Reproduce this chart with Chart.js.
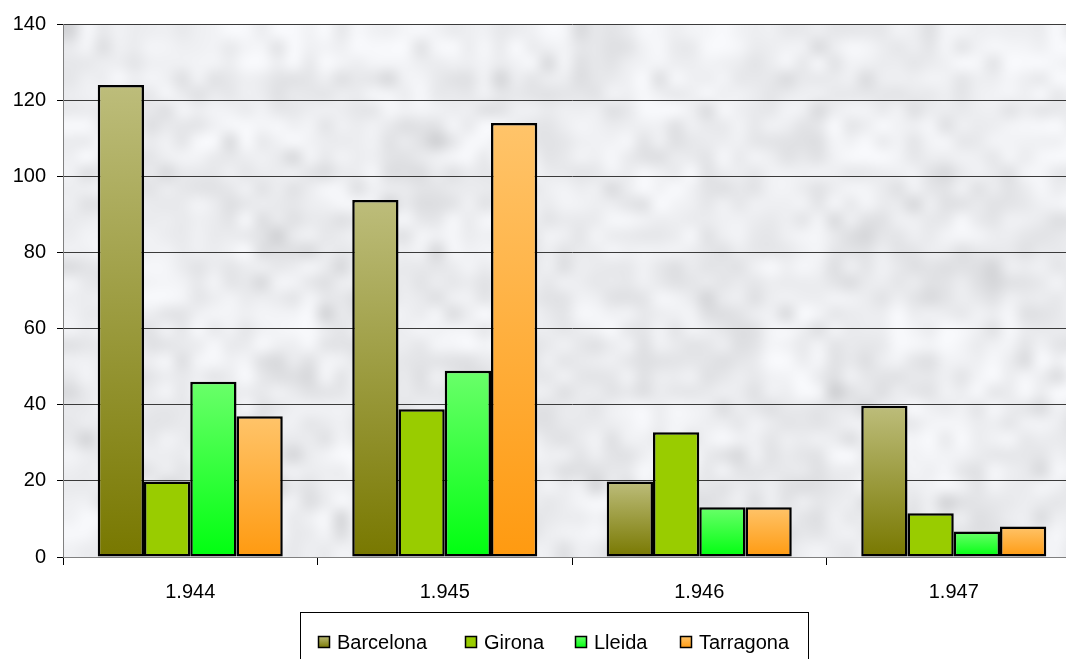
<!DOCTYPE html>
<html>
<head>
<meta charset="utf-8">
<script src="https://cdn.jsdelivr.net/npm/chart.js@4.4.1/dist/chart.umd.min.js"></script>
<style>
html, body { margin: 0; padding: 0; background: #fff; overflow: hidden; }
#wrap { width: 1082px; height: 659px; }
</style>
</head>
<body>
<div id="wrap"><canvas id="chart" width="1082" height="659"></canvas></div>
<script>
// Chart data
const years = ['1.944', '1.945', '1.946', '1.947'];
const barcelona = [124, 93.8, 19.8, 39.7];
const girona = [19.8, 38.8, 32.8, 11.5];
const lleida = [46, 48.9, 13.1, 6.7];
const tarragona = [37, 114, 13.1, 8];
const seriesNames = ['Barcelona', 'Girona', 'Lleida', 'Tarragona'];
const yMin = 0;
const yMax = 140;
const yStep = 20;

// Colours per series: [top, bottom] of each bar
const seriesColors = [
    ['#BDBD7B', '#787800'],
    ['#99CC00', '#99CC00'],
    ['#6AFF6A', '#00FF10'],
    ['#FFC46A', '#FF9A10']
];

const FONT = '"Liberation Sans", Arial, sans-serif';

// Per-bar vertical gradient
function barGradient(colors) {
    return function(context) {
        const chart = context.chart;
        const yScale = chart.scales.y;
        if (!chart.chartArea || !yScale || context.parsed === undefined) return colors[1];
        const top = yScale.getPixelForValue(context.parsed.y);
        const base = yScale.getPixelForValue(0);
        if (!isFinite(top) || !isFinite(base) || base - top < 1) return colors[1];
        const g = chart.ctx.createLinearGradient(0, top, 0, base);
        g.addColorStop(0, colors[0]);
        g.addColorStop(1, colors[1]);
        return g;
    };
}

// Marble-like backdrop: coarse deterministic noise with diagonal veins
function hash(x, y) {
    const s = Math.sin(x * 12.9898 + y * 78.233) * 43758.5453;
    return s - Math.floor(s);
}
const NW = 64, NH = 34;
const noiseCanvas = document.createElement('canvas');
noiseCanvas.width = NW;
noiseCanvas.height = NH;
(function() {
    const nctx = noiseCanvas.getContext('2d');
    const img = nctx.createImageData(NW, NH);
    for (let y = 0; y < NH; y++) {
        for (let x = 0; x < NW; x++) {
            const fine = hash(x, y);
            const coarse = hash(Math.floor(x / 4), Math.floor(y / 3) + 17);
            const vein = Math.abs(Math.sin((x * 0.55 - y * 1.1) + 3 * hash(Math.floor(x / 6), Math.floor(y / 4))));
            let c = 236 + (coarse - 0.5) * 14 + (fine - 0.5) * 18;
            if (vein < 0.25) c -= (0.25 - vein) * 70;
            c = Math.max(190, Math.min(248, Math.round(c)));
            const i = (y * NW + x) * 4;
            img.data[i] = c;
            img.data[i + 1] = c + 1;
            img.data[i + 2] = Math.min(255, c + 4);
            img.data[i + 3] = 255;
        }
    }
    nctx.putImageData(img, 0, 0);
})();

const marblePlugin = {
    id: 'marble',
    beforeDraw(chart) {
        const { ctx, chartArea } = chart;
        ctx.save();
        ctx.imageSmoothingEnabled = true;
        ctx.imageSmoothingQuality = 'high';
        ctx.drawImage(noiseCanvas, chartArea.left, chartArea.top,
            chartArea.right - chartArea.left, chartArea.bottom - chartArea.top);
        ctx.restore();
    }
};

// Legend box under the axis
const legendPlugin = {
    id: 'boxLegend',
    afterDraw(chart) {
        const ctx = chart.ctx;
        const left = 300, top = 612, right = 808, bottom = 672;
        ctx.save();
        ctx.fillStyle = '#fff';
        ctx.fillRect(left, top, right - left, bottom - top);
        ctx.strokeStyle = '#000';
        ctx.lineWidth = 1;
        ctx.strokeRect(left + 0.5, top + 0.5, right - left, bottom - top);
        ctx.font = '20px ' + FONT;
        ctx.textBaseline = 'middle';
        const boxX = [318, 465, 575, 680];
        const cy = 642;
        chart.data.datasets.forEach((ds, i) => {
            const g = ctx.createLinearGradient(0, cy - 6, 0, cy + 6);
            g.addColorStop(0, seriesColors[i][0]);
            g.addColorStop(1, seriesColors[i][1]);
            ctx.fillStyle = g;
            ctx.fillRect(boxX[i], cy - 6, 12, 12);
            ctx.strokeStyle = '#000';
            ctx.lineWidth = 1.5;
            ctx.strokeRect(boxX[i] + 0.5, cy - 5.5, 11, 11);
            ctx.fillStyle = '#000';
            ctx.fillText(ds.label, boxX[i] + 19, cy + 1);
        });
        ctx.restore();
    }
};

const seriesValues = [barcelona, girona, lleida, tarragona];
const datasets = seriesNames.map((name, i) => ({
    label: name,
    data: seriesValues[i],
    backgroundColor: barGradient(seriesColors[i]),
    borderColor: '#000',
    borderWidth: 2.5,
    borderSkipped: false,
    barPercentage: 1,
    categoryPercentage: 0.727
}));

new Chart(document.getElementById('chart').getContext('2d'), {
    type: 'bar',
    data: { labels: years, datasets: datasets },
    plugins: [marblePlugin, legendPlugin],
    options: {
        responsive: false,
        animation: false,
        layout: { padding: { top: 24, left: 0, right: 1, bottom: 0 } },
        plugins: {
            legend: { display: false },
            tooltip: { enabled: false }
        },
        scales: {
            x: {
                grid: {
                    display: true,
                    drawOnChartArea: false,
                    offset: true,
                    tickLength: 8,
                    color: '#000'
                },
                border: { display: true, color: '#808080', width: 1 },
                ticks: {
                    color: '#000',
                    padding: 15,
                    font: { family: FONT, size: 20 }
                },
                afterFit(scale) { scale.height = 102; }
            },
            y: {
                min: yMin,
                max: yMax,
                ticks: {
                    stepSize: yStep,
                    color: '#000',
                    padding: 11,
                    font: { family: FONT, size: 20 }
                },
                grid: {
                    color: '#3a3a3a',
                    lineWidth: 1,
                    tickLength: 6,
                    tickColor: '#000'
                },
                border: { display: true, color: '#808080', width: 1 },
                afterFit(scale) { scale.width = 63; }
            }
        }
    }
});
</script>
</body>
</html>
